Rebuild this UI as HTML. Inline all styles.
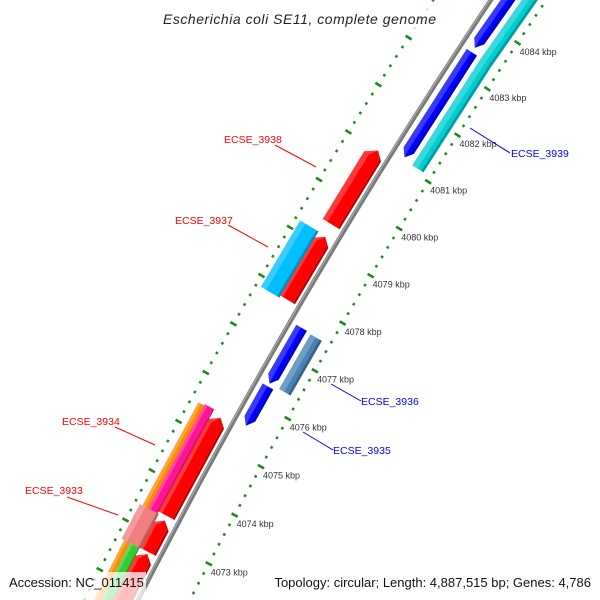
<!DOCTYPE html>
<html><head><meta charset="utf-8"><style>
html,body{margin:0;padding:0;background:#fff;overflow:hidden;width:600px;height:600px;}
svg{display:block;overflow:hidden;font-family:"Liberation Sans","DejaVu Sans",sans-serif;}
</style></head><body>
<svg id="map" width="600" height="600" viewBox="0 0 600 600" xmlns="http://www.w3.org/2000/svg">
<rect width="600" height="600" fill="#fff"/>
<g id="ticks"></g>
<g id="backbone"></g>
<g id="features"></g>
<g id="labels"></g>
<rect x="160" y="6" width="280" height="24" fill="#fff" opacity="0.8"/>
<text x="163" y="24" font-size="14" font-style="italic" fill="#222" textLength="273" lengthAdjust="spacing">Escherichia coli SE11, complete genome</text>
<rect x="6" y="572" width="140" height="28" fill="#fff" opacity="0.75"/>
<text x="9" y="587" font-size="13" fill="#111">Accession: NC_011415</text>
<text x="591" y="587" font-size="13" fill="#111" text-anchor="end">Topology: circular; Length: 4,887,515 bp; Genes: 4,786</text>
</svg>
<script>
// feature data (kbp)
const featStart = [4079.43,4077.86,4077.82,4076.39,4076.39,4075.52,4081.15,4083.5,4081.1,4083.37,4073.41,4072.68,4070.0,4073.37,4073.37,4072.67,4070.0,4070.0];
const featEnd   = [4081.0, 4079.18,4079.2, 4077.55,4077.53,4076.33,4083.4,4090.0,4083.37,4090.0,4075.42,4073.32,4072.64,4075.47,4075.5,4073.37,4072.67,4072.67];
const featStrand= [1,1,1,-1,-1,-1,-1,-1,-1,-1,1,1,1,1,1,1,1,1];
const featRow   = ["r1","r1","r2","r1","r2","r1","r1","r1","r2","r2","r1","r1","r1","r2o","r2i","r2","r2o","r2i"];
const featArrow = [1,1,0,1,0,1,1,1,0,0,1,1,1,0,0,0,0,0];
const featColor = ["#ff0000","#ff0000","#00bfff","#0000ff","#4682b4","#0000ff","#0000ff","#0000ff","#00ced1","#00ced1","#ff0000","#ff0000","#ff0000","#ff8c00","#ff1493","#f08080","#ff8c00","#32cd32"];
const tickMajor = [4073,4074,4075,4076,4077,4078,4079,4080,4081,4082,4083,4084];
const tickLabels = ["4073 kbp","4074 kbp","4075 kbp","4076 kbp","4077 kbp","4078 kbp","4079 kbp","4080 kbp","4081 kbp","4082 kbp","4083 kbp","4084 kbp"];
const labelNames = ["ECSE_3938","ECSE_3937","ECSE_3934","ECSE_3933","ECSE_3939","ECSE_3936","ECSE_3935"];
const labelColors = ["#ff0000","#ff0000","#ff0000","#ff0000","#0000ff","#0000ff","#0000ff"];

const NS="http://www.w3.org/2000/svg";
const CX=5478, CY=3336, R=6000, TH0=-149.6*Math.PI/180, PX=55.5;
function P(k,s){const t=TH0+(k-4078)*PX/R;const r=R+s;return [CX+r*Math.cos(t),CY+r*Math.sin(t)];}
function el(tag,attrs,parent){const e=document.createElementNS(NS,tag);for(const a in attrs)e.setAttribute(a,attrs[a]);parent.appendChild(e);return e;}
function pts(a){return a.map(p=>p[0].toFixed(1)+","+p[1].toFixed(1)).join(" ");}
const rows={r1:[7,19],r2:[24,37],r2o:[30.5,37],r2i:[24,30.5]};

// backbone
const bb=document.getElementById('backbone');
const bp=[];for(let k=4068;k<=4090;k+=0.5)bp.push(P(k,0));
const bl=el('polyline',{points:pts(bp),fill:'none',stroke:'#7a7a7a','stroke-width':4.5},bb);


const bl2=el('polyline',{points:pts(bp.map((p,i)=>P(4068+i*0.5,1))),fill:'none',stroke:'#aaaaaa','stroke-width':1.2},bb);



// ticks
const tg=document.getElementById('ticks');
for(let i=0;i<=100;i++){
  const k=4070+i*0.2;const major=(i%5===0);
  [[-46,-1],[48,1]].forEach(([s,d])=>{
    const len=major?7:2.5;
    const a=P(k,s-len/2),b=P(k,s+len/2);
    const ln=el('line',{x1:a[0],y1:a[1],x2:b[0],y2:b[1],stroke:'#1a8a1a','stroke-width':2.6},tg);
    
    
  });
}
tickMajor.forEach((k,i)=>{
  const p=P(k,-46);
  const t=el('text',{x:p[0]+2,y:p[1]+12,'font-size':9,fill:'#333'},tg);
  t.textContent=tickLabels[i];
  
  
});

// features
const fg=document.getElementById('features');
function shade(hex,f){const n=parseInt(hex.slice(1),16);let r=n>>16,g=(n>>8)&255,b=n&255;
  const m=c=>Math.round(f>0?c+(255-c)*f:c*(1+f));return `rgb(${m(r)},${m(g)},${m(b)})`;}
featStart.forEach((k1,i)=>{
  const k2=featEnd[i],st=featStrand[i],rw=rows[featRow[i]];
  const sOut=st*rw[1], sIn=st*rw[0], sMid=(sOut+sIn)/2;
  const head=8/PX;
  function poly(a,b){
    if(!featArrow[i])return [P(k1,a),P(k2,a),P(k2,b),P(k1,b)];
    if(st>0){const h=Math.max(k1,k2-head);return [P(k1,a),P(h,a),P(k2,sMid),P(h,b),P(k1,b)];}
    const h=Math.min(k2,k1+head);return [P(k2,a),P(h,a),P(k1,sMid),P(h,b),P(k2,b)];
  }
  const g=el('g',{},fg);
  
  
  el('polygon',{points:pts(poly(sOut,sIn)),fill:featColor[i]},g);
  const w=sIn-sOut;
  el('polygon',{points:pts(poly(st>0?sOut:sIn,(st>0?sOut:sIn)+(st>0?1:-1)*Math.abs(w)*0.45)),fill:shade(featColor[i],0.22)},g);
  const dEdge=st>0?sIn:sOut;
  el('polygon',{points:pts(poly(dEdge,dEdge+(dEdge>0?1:-1)*-Math.abs(w)*0.2)),fill:shade(featColor[i],-0.25)},g);
});

// labels
const lg=document.getElementById('labels');
const labX=[224,175,62,25,511,361,333], labY=[143,224,425,494,157,405,454];
const lnA=[[275,145],[228,225],[115,427],[67,497],[470,128],[331,384],[303,432]];
const lnB=[[316,167],[268,247],[155,445],[118,515],[510,153],[361,401],[333,450]];
labelNames.forEach((n,i)=>{
  const l=el('line',{x1:lnA[i][0],y1:lnA[i][1],x2:lnB[i][0],y2:lnB[i][1],stroke:labelColors[i],'stroke-width':1},lg);
  
  
  const t=el('text',{x:labX[i],y:labY[i],'font-size':10.5,fill:labelColors[i]},lg);
  t.textContent=n;
  
  
});
</script>
</body></html>
